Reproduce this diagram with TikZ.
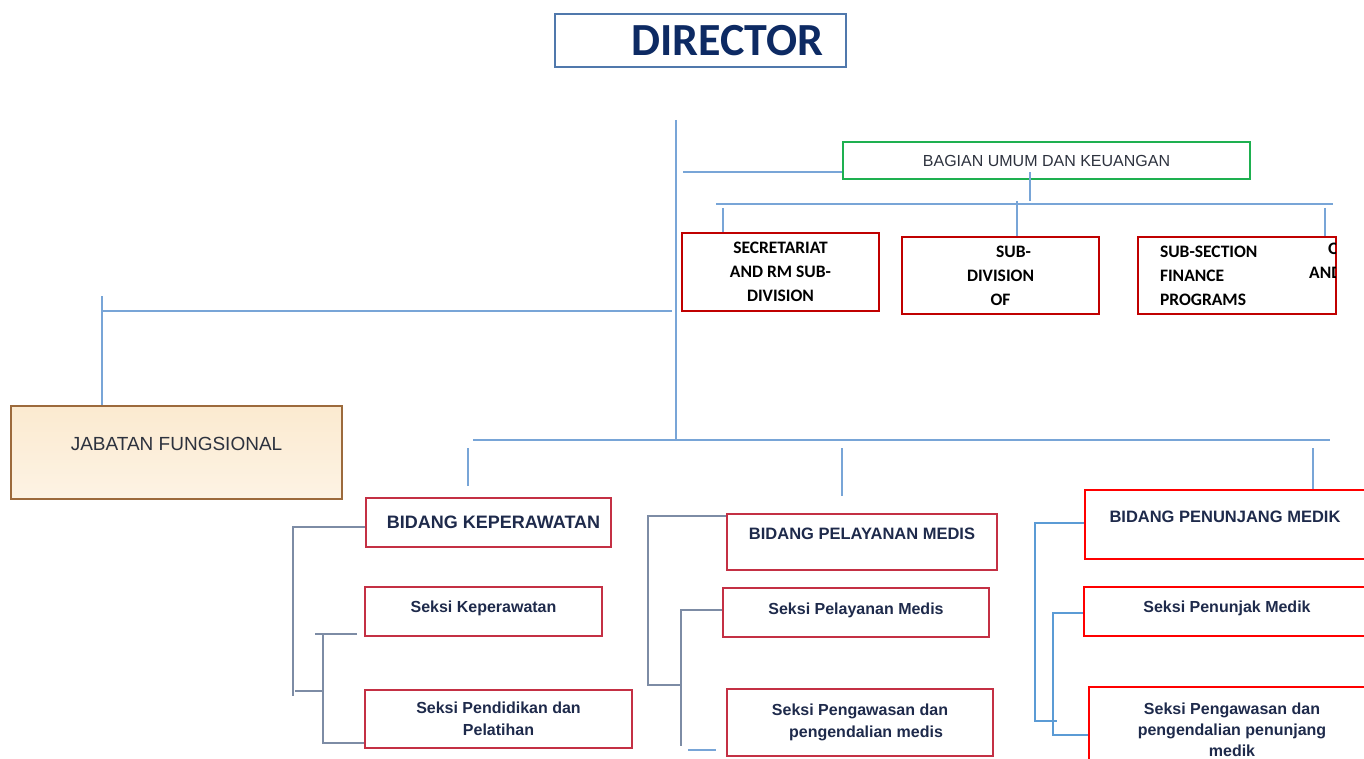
\documentclass[tikz,border=0pt]{standalone}
\usepackage{fontspec}
\setmainfont{Liberation Sans}
\newfontfamily\calibri{Carlito}
\usetikzlibrary{positioning}
\definecolor{linkblue}{RGB}{120,165,215}
\definecolor{brackblue}{RGB}{91,155,213}
\definecolor{brackgrey}{RGB}{125,140,165}
\definecolor{navytext}{RGB}{13,42,99}
\definecolor{inktext}{RGB}{30,42,75}
\definecolor{greytext}{RGB}{45,50,62}
\definecolor{dirframe}{RGB}{80,120,172}
\definecolor{greenframe}{RGB}{30,176,80}
\definecolor{darkred}{RGB}{192,0,0}
\definecolor{crimson}{RGB}{196,48,68}
\definecolor{brightred}{RGB}{255,0,0}
\definecolor{wheattop}{RGB}{251,234,208}
\definecolor{wheatbot}{RGB}{253,243,228}
\definecolor{brownframe}{RGB}{156,106,60}

\begin{document}
\begin{tikzpicture}[
    x=1pt, y=-1pt,
    director/.style={draw=dirframe, line width=2pt, minimum width=291pt, minimum height=53pt, inner sep=0pt, text=navytext, font=\calibri\bfseries\fontsize{46}{50}\selectfont},
    general/.style={draw=greenframe, line width=2pt, minimum width=407pt, minimum height=37pt, inner sep=0pt, text=greytext, font=\fontsize{16}{18}\selectfont},
    subunit/.style={draw=darkred, line width=2pt, minimum width=197pt, minimum height=77pt, inner sep=0pt, align=center, font=\calibri\bfseries\fontsize{17.5}{24}\selectfont},
    cuttext/.style={inner sep=0pt, font=\calibri\bfseries\fontsize{17.5}{24}\selectfont},
    functional/.style={draw=brownframe, line width=2pt, top color=wheattop, bottom color=wheatbot, minimum width=331pt, minimum height=93pt, inner sep=0pt, text=greytext, font=\fontsize{19}{22}\selectfont},
    bidang/.style={draw=#1, line width=1.8pt, inner sep=0pt, text=inktext, font=\bfseries\fontsize{16.5}{20}\selectfont},
    seksi/.style={draw=#1, line width=1.8pt, inner sep=0pt, align=center, text=inktext, font=\bfseries\fontsize{16}{22}\selectfont},
    link/.style={draw=linkblue, line width=1.3pt},
    bracket/.style={draw=#1, line width=1.3pt}
]
    \clip (0,0) rectangle (1364,759);

    % Head
    \node[director] (director) at (700.5,40.5) {\hspace*{54pt}DIRECTOR};

    % General affairs
    \node[general] (bagian) at (1046.5,160.5) {BAGIAN UMUM DAN KEUANGAN};
    \node[subunit] (secretariat) at (780.5,272) {SECRETARIAT\\AND RM SUB-\\DIVISION};
    \node[subunit] (subdiv) at (1000.5,275.5) {\hspace*{26pt}SUB-\\DIVISION\\OF};
    \node[subunit, minimum width=198pt, text width=154pt, align=left] (subsec) at (1237,275.5) {SUB-SECTION\\FINANCE\\PROGRAMS};
    \begin{scope}
        \clip (1138,237) rectangle (1335,314);
        \node[cuttext, anchor=west] (subsec-of) at (1328,249) {OF};
        \node[cuttext, anchor=west] (subsec-and) at (1309,273) {AND};
    \end{scope}

    % Functional staff
    \node[functional, text depth=17pt] (jabatan) at (176.5,452.5) {JABATAN FUNGSIONAL};

    % Divisions
    \node[bidang=crimson, minimum width=245pt, minimum height=49pt, font=\bfseries\fontsize{18}{20}\selectfont] (kep-head) at (488.5,522.5) {\hspace*{10pt}BIDANG KEPERAWATAN};
    \node[seksi=crimson, minimum width=237pt, minimum height=49pt, text depth=9pt] (kep-sec1) at (483.5,611.5) {Seksi Keperawatan};
    \node[seksi=crimson, minimum width=267pt, minimum height=58pt] (kep-sec2) at (498.5,719) {Seksi Pendidikan dan\\Pelatihan};

    \node[bidang=crimson, minimum width=270pt, minimum height=56pt, text depth=16pt] (med-head) at (862,542) {BIDANG PELAYANAN MEDIS};
    \node[seksi=crimson, minimum width=266pt, minimum height=49pt, text depth=8pt] (med-sec1) at (856,612.5) {Seksi Pelayanan Medis};
    \node[seksi=crimson, minimum width=266pt, minimum height=67pt] (med-sec2) at (860,722.5) {Seksi Pengawasan dan\\\hspace*{12pt}pengendalian medis};

    \node[bidang=brightred, line width=2.4pt, minimum width=290pt, minimum height=69pt, text depth=15pt] (pen-head) at (1230,524.5) {BIDANG PENUNJANG MEDIK\hspace*{10pt}};
    \node[seksi=brightred, line width=2.4pt, minimum width=291pt, minimum height=49pt, text depth=9pt] (pen-sec1) at (1229.5,611.5) {Seksi Penunjak Medik\hspace*{5pt}};
    \node[seksi=brightred, line width=2.4pt, minimum width=286pt, minimum height=85pt, font=\bfseries\fontsize{16}{21}\selectfont] (pen-sec2) at (1232,729.5) {Seksi Pengawasan dan\\pengendalian penunjang\\medik};

    % Main lines
    \coordinate (spine-top) at (676,120);
    \coordinate (spine-end) at (676,440);
    \draw[link] (spine-top) -- (spine-end);
    \coordinate (bagian-tap) at (683,172);
    \draw[link] (bagian-tap) -- (bagian-tap -| bagian.west);
    \coordinate (bagian-stem) at (1030,172);
    \coordinate (bagian-foot) at (1030,201);
    \draw[link] (bagian-stem) -- (bagian-foot);
    \coordinate (bus-top-l) at (716,204);
    \coordinate (bus-top-r) at (1333,204);
    \draw[link] (bus-top-l) -- (bus-top-r);
    \coordinate (drop-sec) at (723,208);
    \coordinate (drop-div) at (1017,201);
    \coordinate (drop-fin) at (1325,208);
    \draw[link] (drop-sec) -- (drop-sec |- secretariat.north);
    \draw[link] (drop-div) -- (drop-div |- subdiv.north);
    \draw[link] (drop-fin) -- (drop-fin |- subsec.north);

    \coordinate (jab-tap) at (672,311);
    \coordinate (jab-corner) at (102,311);
    \coordinate (jab-top) at (102,296);
    \draw[link] (jab-tap) -- (jab-corner);
    \draw[link] (jab-top) -- (jab-top |- jabatan.north);

    \coordinate (bus-low-l) at (473,440);
    \coordinate (bus-low-r) at (1330,440);
    \draw[link] (bus-low-l) -- (bus-low-r);
    \coordinate (drop-kep) at (468,448);
    \coordinate (drop-kep-end) at (468,486);
    \coordinate (drop-med) at (842,448);
    \coordinate (drop-med-end) at (842,496);
    \coordinate (drop-pen) at (1313,448);
    \draw[link] (drop-kep) -- (drop-kep-end);
    \draw[link] (drop-med) -- (drop-med-end);
    \draw[link] (drop-pen) -- (drop-pen |- pen-head.north);

    % Brackets
    \coordinate (kl-top) at (293,527);
    \coordinate (kl-bot) at (293,696);
    \coordinate (kl-join) at (295,691);
    \coordinate (ki-top) at (323,634);
    \coordinate (ki-bot) at (323,743);
    \draw[bracket=brackgrey] (kl-top -| kep-head.west) -- (kl-top) -- (kl-bot);
    \draw[bracket=brackgrey] (kl-join) -- (kl-join -| ki-top);
    \draw[bracket=brackgrey, shorten <=7pt] (ki-top -| kep-sec1.west) -- ([xshift=-8pt]ki-top);
    \draw[bracket=brackgrey] (ki-top) -- (ki-bot) -- (ki-bot -| kep-sec2.west);

    \coordinate (ml-top) at (648,516);
    \coordinate (ml-bot) at (648,685);
    \coordinate (mi-top) at (681,610);
    \coordinate (mi-bot) at (681,746);
    \coordinate (mi-foot) at (688,750);
    \draw[bracket=brackgrey] (ml-top -| med-head.west) -- (ml-top) -- (ml-bot) -- (ml-bot -| mi-top);
    \draw[bracket=brackgrey] (mi-top -| med-sec1.west) -- (mi-top) -- (mi-bot);
    \draw[link] (mi-foot) -- ++(28,0);

    \coordinate (rl-top) at (1035,523);
    \coordinate (rl-bot) at (1035,721);
    \coordinate (ri-top) at (1053,613);
    \coordinate (ri-bot) at (1053,735);
    \draw[bracket=brackblue] (rl-top -| pen-head.west) -- (rl-top) -- (rl-bot) -- ++(22,0);
    \draw[bracket=brackblue] (ri-top -| pen-sec1.west) -- (ri-top) -- (ri-bot) -- (ri-bot -| pen-sec2.west);

\end{tikzpicture}
\end{document}
